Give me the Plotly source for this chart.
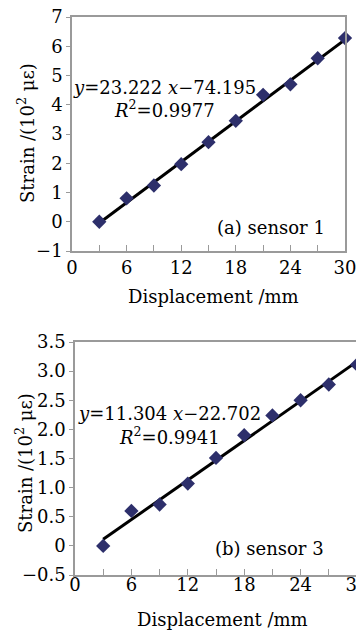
import plotly.graph_objects as go

# ---- data ----
displacement = [3, 6, 9, 12, 15, 18, 21, 24, 27, 30]
strain_sensor1 = [0.0, 0.80, 1.24, 1.97, 2.72, 3.45, 4.34, 4.70, 5.59, 6.28]
strain_sensor3 = [0.0, 0.60, 0.71, 1.07, 1.51, 1.90, 2.24, 2.50, 2.77, 3.11]
# fit coefficients (printed in chart, in με per mm / με); plotted in 10^2 με
fit1_slope, fit1_intercept, fit1_r2 = 23.222, -74.195, 0.9977
fit3_slope, fit3_intercept, fit3_r2 = 11.304, -22.702, 0.9941

x_tickvals = [0, 6, 12, 18, 24, 30]
x_ticktext = ["0", "6", "12", "18", "24", "30"]
y1_tickvals = [-1, 0, 1, 2, 3, 4, 5, 6, 7]
y1_ticktext = ["\u22121", "0", "1", "2", "3", "4", "5", "6", "7"]
y3_tickvals = [-0.5, 0, 0.5, 1.0, 1.5, 2.0, 2.5, 3.0, 3.5]
y3_ticktext = ["\u22120.5", "0", "0.5", "1.0", "1.5", "2.0", "2.5", "3.0", "3.5"]

W, H = 364, 630
OFF = 8  # page body margin
FONT = "DejaVu Serif"
FS = 18
MARKER = "#2d2f6b"
AXC = "#9a9a9a"

def fit_line(slope, intercept):
    xs = [displacement[0], displacement[-1]]
    return xs, [(slope * x + intercept) / 100.0 for x in xs]

fig = go.Figure()
fx1, fy1 = fit_line(fit1_slope, fit1_intercept)
fx3, fy3 = fit_line(fit3_slope, fit3_intercept)

fig.add_trace(go.Scatter(x=fx1, y=fy1, mode="lines", line=dict(color="black", width=3),
                         xaxis="x", yaxis="y", showlegend=False))
fig.add_trace(go.Scatter(x=displacement, y=strain_sensor1, mode="markers",
                         marker=dict(symbol="diamond", size=11, color=MARKER),
                         xaxis="x", yaxis="y", showlegend=False, cliponaxis=False))
fig.add_trace(go.Scatter(x=fx3, y=fy3, mode="lines", line=dict(color="black", width=3),
                         xaxis="x2", yaxis="y2", showlegend=False))
fig.add_trace(go.Scatter(x=displacement, y=strain_sensor3, mode="markers",
                         marker=dict(symbol="diamond", size=11, color=MARKER),
                         xaxis="x2", yaxis="y2", showlegend=False, cliponaxis=False))

def px(v):
    return (v - OFF) / W

def py(v):
    return 1 - (v - OFF) / H

top_l, top_r, top_t, top_b = 72, 345, 17, 251
bot_l, bot_r, bot_t, bot_b = 75, 357, 342, 575

xaxis_common = dict(range=[0, 30], tickvals=x_tickvals, ticktext=x_ticktext,
                    ticks="inside", ticklen=6, tickcolor=AXC, tickwidth=1,
                    minor=dict(dtick=3, tick0=0, ticks="inside", ticklen=6, tickcolor=AXC, showgrid=False),
                    showline=True, linecolor=AXC, linewidth=1.5, mirror=True,
                    showgrid=False, zeroline=False, automargin=False,
                    ticklabeloverflow="allow",
                    tickfont=dict(family=FONT, size=FS, color="black"))
yaxis_common = dict(ticks="outside", ticklen=4, tickcolor=AXC,
                    showline=True, linecolor=AXC, linewidth=1.5, mirror=True,
                    showgrid=False, zeroline=False, automargin=False,
                    ticklabeloverflow="allow",
                    tickfont=dict(family=FONT, size=FS, color="black"))

fig.update_layout(
    width=W, height=H, margin=dict(l=0, r=0, t=0, b=0, autoexpand=False),
    paper_bgcolor="white", plot_bgcolor="white",
    xaxis=dict(domain=[px(top_l), px(top_r)], anchor="y", ticklabelstandoff=0, **xaxis_common),
    yaxis=dict(domain=[py(top_b), py(top_t)], anchor="x", range=[-1, 7],
               tickvals=y1_tickvals, ticktext=y1_ticktext, **yaxis_common),
    xaxis2=dict(domain=[px(bot_l), px(bot_r)], anchor="y2", ticklabelstandoff=-7, **xaxis_common),
    yaxis2=dict(domain=[py(bot_b), py(bot_t)], anchor="x2", range=[-0.5, 3.5],
                tickvals=y3_tickvals, ticktext=y3_ticktext, **yaxis_common),
)

tf = dict(family=FONT, size=FS, color="black")
C = dict(showarrow=False, font=tf, xanchor="center", yanchor="middle")
ann = []
# equations
ann.append(dict(x=10.2, y=4.58, xref="x", yref="y", **C,
                text=f"<i>y</i>={fit1_slope:.3f} <i>x</i>\u2212{abs(fit1_intercept):.3f}"))
ann.append(dict(x=10.2, y=3.87, xref="x", yref="y", **C,
                text=f"<i>R</i><sup>2</sup>={fit1_r2:.4f}"))
ann.append(dict(x=21.9, y=-0.18, xref="x", yref="y", **C, text="(a) sensor 1"))
ann.append(dict(x=10.0, y=2.27, xref="x2", yref="y2", **C,
                text=f"<i>y</i>={fit3_slope:.3f} <i>x</i>\u2212{abs(fit3_intercept):.3f}"))
ann.append(dict(x=10.0, y=1.89, xref="x2", yref="y2", **C,
                text=f"<i>R</i><sup>2</sup>={fit3_r2:.4f}"))
ann.append(dict(x=20.7, y=-0.04, xref="x2", yref="y2", **C, text="(b) sensor 3"))
# axis titles
ann.append(dict(x=px(213), y=py(297), xref="paper", yref="paper", **C, text="Displacement /mm"))
ann.append(dict(x=px(222), y=py(619), xref="paper", yref="paper", **C, text="Displacement /mm"))
ann.append(dict(x=px(26), y=py(133), xref="paper", yref="paper", **C, textangle=-90,
                text="Strain /(10<sup>2</sup> \u03bc\u03b5)"))
ann.append(dict(x=px(24), y=py(463), xref="paper", yref="paper", **C, textangle=-90,
                text="Strain /(10<sup>2</sup> \u03bc\u03b5)"))
fig.update_layout(annotations=ann)

fig.write_html("out.html")
